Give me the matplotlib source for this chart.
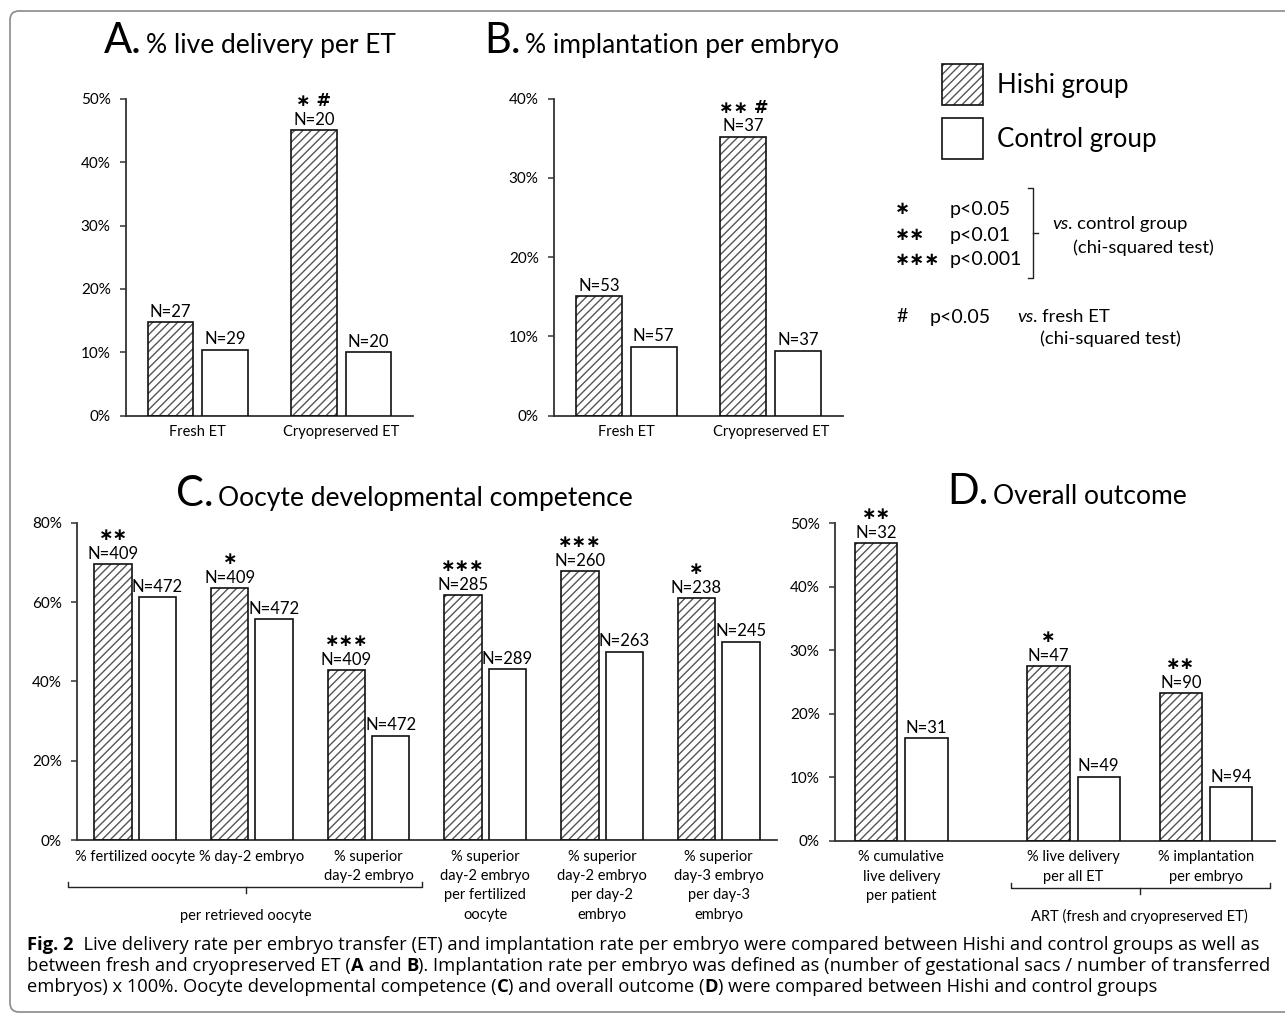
import numpy as np
import matplotlib
matplotlib.use("Agg")
import matplotlib.pyplot as plt
from matplotlib.patches import Rectangle, FancyBboxPatch
from matplotlib.ticker import PercentFormatter, MultipleLocator

plt.rcParams['font.family'] = ['Lato', 'DejaVu Sans']
plt.rcParams['hatch.linewidth'] = 1.0

# ---- data ----
ab_groups = ['Fresh ET', 'Cryopreserved ET']
a_hishi = [14.8, 45.0]
a_control = [10.4, 10.0]
a_hishi_n = [27, 20]
a_control_n = [29, 20]
a_marks = ['', '∗ #']

b_hishi = [15.1, 35.2]
b_control = [8.7, 8.2]
b_hishi_n = [53, 37]
b_control_n = [57, 37]
b_marks = ['', '∗∗ #']

c_groups = ['% fertilized oocyte', '% day-2 embryo', '% superior\nday-2 embryo',
            '% superior\nday-2 embryo\nper fertilized\noocyte',
            '% superior\nday-2 embryo\nper day-2\nembryo',
            '% superior\nday-3 embryo\nper day-3\nembryo']
c_hishi = [69.6, 63.5, 42.9, 61.8, 67.7, 60.9]
c_control = [61.2, 55.6, 26.3, 43.1, 47.5, 50.0]
c_hishi_n = [409, 409, 409, 285, 260, 238]
c_control_n = [472, 472, 472, 289, 263, 245]
c_marks = ['∗∗', '∗', '∗∗∗', '∗∗∗', '∗∗∗', '∗']

d_groups = ['% cumulative\nlive delivery\nper patient',
            '% live delivery\nper all ET', '% implantation\nper embryo']
d_hishi = [46.9, 27.5, 23.2]
d_control = [16.1, 10.1, 8.4]
d_hishi_n = [32, 47, 90]
d_control_n = [31, 49, 94]
d_marks = ['∗∗', '∗', '∗∗']

W, H = 1285, 1014
fig = plt.figure(figsize=(W / 100, H / 100), dpi=100)

def px_axes(left, top, right, bottom):
    return fig.add_axes([left / W, 1 - bottom / H, (right - left) / W, (bottom - top) / H])

AX_COL = '#333333'
HATCH_COL = '#555555'
STAR = dict(family=['DejaVu Sans'], fontweight='bold')

def panel(ax, x, groups, hishi, control, hn, cn, marks, ymax, ystep, xlim):
    x = np.asarray(x, float)
    width, off = 0.32, 0.19
    xh, xc = x - off, x + off
    ax.bar(xh, hishi, width, color='white', edgecolor=HATCH_COL, hatch='////',
           linewidth=0, zorder=2)
    ax.bar(xh, hishi, width, fill=False, edgecolor='#111111', linewidth=1.2, zorder=3)
    ax.bar(xc, control, width, color='white', edgecolor='#111111', linewidth=1.2, zorder=3)
    for xs, hs, ns in ((xh, hishi, hn), (xc, control, cn)):
        for xi, h, n in zip(xs, hs, ns):
            ax.annotate(f'N={n}', (xi, h), xytext=(0, 3.8), textcoords='offset points',
                        ha='center', va='baseline', fontsize=12)
    for xi, h, m in zip(xh, hishi, marks):
        if m:
            ax.annotate(m, (xi, h), xytext=(0, 21), textcoords='offset points',
                        ha='center', va='center', fontsize=12.5, **STAR)
    ax.set_ylim(0, ymax)
    ax.set_xlim(*xlim)
    ax.yaxis.set_major_locator(MultipleLocator(ystep))
    ax.yaxis.set_major_formatter(PercentFormatter(decimals=0))
    ax.set_xticks(x)
    ax.set_xticklabels(groups, fontsize=10.5, linespacing=1.48)
    ax.tick_params(axis='x', length=0, pad=7)
    ax.tick_params(axis='y', length=4, width=1.1, color=AX_COL, labelsize=11, pad=7)
    for s in ('top', 'right'):
        ax.spines[s].set_visible(False)
    for s in ('left', 'bottom'):
        ax.spines[s].set_color(AX_COL)
        ax.spines[s].set_linewidth(1.3)

axA = px_axes(126, 98.7, 413, 415.7)
panel(axA, np.arange(2), ab_groups, a_hishi, a_control, a_hishi_n, a_control_n, a_marks,
      50, 10, (-0.5, 1.5))
axB = px_axes(554, 98.7, 843, 415.7)
panel(axB, np.arange(2), ab_groups, b_hishi, b_control, b_hishi_n, b_control_n, b_marks,
      40, 10, (-0.5, 1.5))
axC = px_axes(77, 522.7, 777, 840)
panel(axC, np.arange(6), c_groups, c_hishi, c_control, c_hishi_n, c_control_n, c_marks,
      80, 20, (-0.5, 5.5))
d_x = np.arange(3) + np.array([0, 0.3, 0.3])
axD = px_axes(835, 523.3, 1275, 840.7)
panel(axD, d_x, d_groups, d_hishi, d_control, d_hishi_n, d_control_n, d_marks,
      50, 10, (-0.5, 2.82))

# group braces under the x labels
def brace(ax, x0, x1, xm, y, text):
    tr = ax.get_xaxis_transform()
    ax.plot([x0, x0, x1, x1], [y + 0.015, y, y, y + 0.015], color='#222', lw=1,
            transform=tr, clip_on=False)
    ax.plot([xm, xm], [y, y - 0.02], color='#222', lw=1, transform=tr, clip_on=False)
    ax.text(xm, y - 0.09, text, transform=tr, ha='center', va='center', fontsize=10.5)

brace(axC, -0.58, 2.46, 0.95, -0.148, 'per retrieved oocyte')
brace(axD, 0.83, 2.78, 1.8, -0.148, 'ART (fresh and cryopreserved ET)')

# overlay in pixel coordinates for titles, legend notes and caption
ov = fig.add_axes([0, 0, 1, 1])
ov.set_xlim(0, W)
ov.set_ylim(H, 0)
ov.axis('off')

ov.add_patch(FancyBboxPatch((10, 11), 1400, 1001, boxstyle='round,pad=0,rounding_size=9',
                            fill=False, edgecolor='#8a8a8a', lw=1.2, clip_on=False))

def chain(x, y, pieces, **kw):
    prev = None
    for txt, extra in pieces:
        if prev is None:
            prev = ov.text(x, y, txt, va='baseline', ha='left', **kw, **extra)
        else:
            prev = ov.annotate(txt, xy=(1, y), xycoords=(prev, 'data'), va='baseline',
                               ha='left', **kw, **extra)
    return prev

def title(x, y, letter, text):
    t = ov.text(x, y, letter, fontsize=30, va='baseline', ha='left')
    ov.annotate(text, xy=(1, y), xycoords=(t, 'data'), xytext=(3, 0),
                textcoords='offset points', fontsize=19, va='baseline', ha='left')

title(104, 53, 'A.', '% live delivery per ET')
title(484, 53, 'B.', '% implantation per embryo')
title(176, 506, 'C.', 'Oocyte developmental competence')
title(947, 504, 'D.', 'Overall outcome')

# group legend
ov.add_patch(Rectangle((942, 64), 41, 41, facecolor='white', edgecolor=HATCH_COL,
                       hatch='////', lw=0))
ov.add_patch(Rectangle((942, 64), 41, 41, fill=False, edgecolor='#111', lw=1.2))
ov.add_patch(Rectangle((942, 118), 41, 41, facecolor='white', edgecolor='#111', lw=1.2))
ov.text(997, 85, 'Hishi group', fontsize=18.6, va='center', ha='left')
ov.text(997, 140, 'Control group', fontsize=18.6, va='center', ha='left')

# significance notes
for y, s, p in ((209, '∗', 'p<0.05'), (235, '∗∗', 'p<0.01'), (260, '∗∗∗', 'p<0.001')):
    ov.text(895, y, s, fontsize=13, va='center', ha='left', **STAR)
    ov.text(950, y, p, fontsize=14, va='center', ha='left')
ov.plot([1028, 1033, 1033, 1028], [188, 188, 278, 278], color='#222', lw=1)
ov.plot([1033, 1038], [233, 233], color='#222', lw=1)
chain(1052, 229, [('vs', dict(style='italic')), ('. control group', {})], fontsize=13.3)
chain(1073, 253, [('(chi-squared test)', {})], fontsize=13.3)
ov.text(896, 317, '#', fontsize=14, va='center', ha='left')
ov.text(930, 317, 'p<0.05', fontsize=14, va='center', ha='left')
chain(1017, 322, [('vs', dict(style='italic')), ('. fresh ET', {})], fontsize=13.3)
chain(1040, 344, [('(chi-squared test)', {})], fontsize=13.3)

# caption
B, N = dict(fontweight='bold'), {}
cap_lines = [
    [('Fig. 2', B), ('  Live delivery rate per embryo transfer (ET) and implantation rate per embryo '
                     'were compared between Hishi and control groups as well as', N)],
    [('between fresh and cryopreserved ET (', N), ('A', B), (' and ', N), ('B', B),
     ('). Implantation rate per embryo was defined as (number of gestational sacs / '
      'number of transferred', N)],
    [('embryos) x 100%. Oocyte developmental competence (', N), ('C', B),
     (') and overall outcome (', N), ('D', B),
     (') were compared between Hishi and control groups', N)],
]
for y, pieces in zip((950, 971, 992), cap_lines):
    chain(27, y, pieces, fontsize=13.25, family=['Open Sans', 'DejaVu Sans'])

fig.savefig('out.png', dpi=100)
